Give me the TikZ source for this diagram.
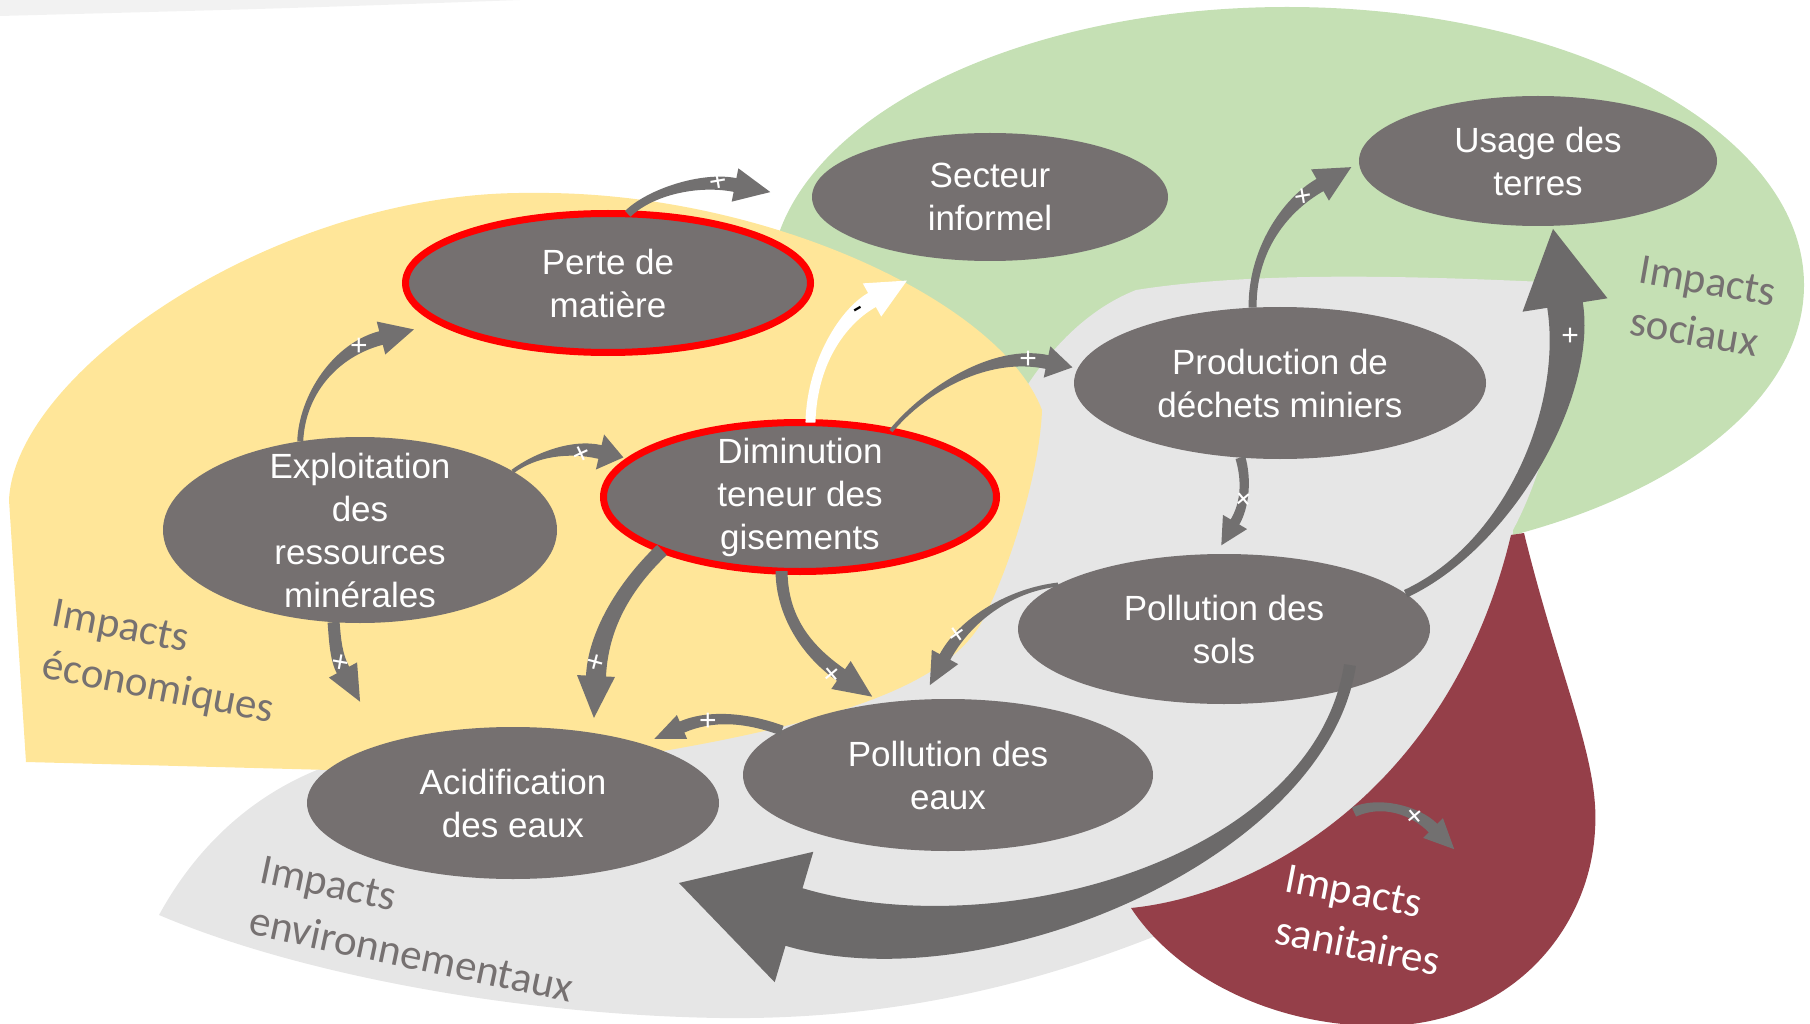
\documentclass[tikz,border=0pt]{standalone}
\usepackage{fontspec}
\setmainfont{Liberation Sans}
\newfontfamily\calfont{Carlito}
\usetikzlibrary{shapes.geometric,calc}

\definecolor{ellgray}{HTML}{757070}
\definecolor{arrgray}{HTML}{727070}
\definecolor{yel}{HTML}{FFE699}
\definecolor{grn}{HTML}{C5E0B4}
\definecolor{lgray}{HTML}{E6E6E6}
\definecolor{dred}{HTML}{953F49}
\definecolor{stripgray}{HTML}{F2F2F2}
\definecolor{labgray}{HTML}{767171}

% tapered curved arrow: #1 style, #2 start, #3 ctrl1, #4 ctrl2, #5 head base,
% #6 half width at start, #7 half width at head, #8 head length, #9 head half width
\newcommand{\taparrow}[9]{%
 \path (#2) coordinate (tS) (#3) coordinate (tA) (#4) coordinate (tB) (#5) coordinate (tE);
 \coordinate (tS1) at ($(tS)!#6pt!90:(tA)$);
 \coordinate (tS2) at ($(tS)!#6pt!-90:(tA)$);
 \coordinate (tA1) at ($(tA)+(tS1)-(tS)$);
 \coordinate (tA2) at ($(tA)+(tS2)-(tS)$);
 \coordinate (tE1) at ($(tE)!#7pt!-90:(tB)$);
 \coordinate (tE2) at ($(tE)!#7pt!90:(tB)$);
 \coordinate (tB1) at ($(tB)+(tE1)-(tE)$);
 \coordinate (tB2) at ($(tB)+(tE2)-(tE)$);
 \coordinate (tH1) at ($(tE)!#9pt!-90:(tB)$);
 \coordinate (tH2) at ($(tE)!#9pt!90:(tB)$);
 \coordinate (tT) at ($(tE)!#8pt!180:(tB)$);
 \fill[#1] (tS1) .. controls (tA1) and (tB1) .. (tE1) -- (tH1) -- (tT) -- (tH2) -- (tE2) .. controls (tB2) and (tA2) .. (tS2) -- cycle;
}

\tikzset{
 ell/.style={ellipse, fill=ellgray, inner sep=0pt, outer sep=0pt},
 redell/.style={ell, draw=red, line width=7pt},
 lbl/.style={text=white, align=center, inner sep=0pt, font=\fontsize{35}{43}\selectfont},
 catlbl/.style={align=left, inner sep=0pt, font=\calfont\fontsize{43}{53}\selectfont},
 sign/.style={text=white, inner sep=0pt, font=\fontsize{30}{30}\selectfont},
 arr/.style={fill=arrgray},
 bigarr/.style={fill=arrgray!95!black},
}

\begin{document}
\begin{tikzpicture}[x=1pt,y=-1pt]
\useasboundingbox (0,0) rectangle (1810,1024);

% background regions
\fill[stripgray] (0,0) -- (520,0) .. controls (300,8) .. (0,16) -- cycle;
\fill[grn] (1287,285) ellipse [x radius=517pt, y radius=278pt];
\fill[lgray] (1136,290) .. controls (1250,272) and (1400,275) .. (1565,283)
  .. controls (1568,380) and (1545,470) .. (1513,530)
  .. controls (1500,720) and (1350,880) .. (1158,935)
  .. controls (1020,990) and (880,1020) .. (720,1018)
  .. controls (520,1015) and (300,975) .. (159,915)
  .. controls (200,840) and (260,790) .. (330,765)
  -- (750,700) -- (980,480)
  .. controls (1010,400) and (1060,320) .. (1136,290) -- cycle;
\fill[dred] (1511,535) -- (1524,533) .. controls (1560,680) and (1600,760) .. (1595,830)
  .. controls (1590,930) and (1510,1026) .. (1380,1026)
  .. controls (1270,1026) and (1175,975) .. (1131,908)
  .. controls (1260,895) and (1450,790) .. (1511,535) -- cycle;
\fill[yel] (26,762) -- (9,500) .. controls (15,370) and (280,190) .. (531,193)
  .. controls (760,190) and (1000,300) .. (1042,410)
  .. controls (1040,470) and (1010,570) .. (980,625)
  .. controls (940,690) and (820,725) .. (640,755)
  .. controls (500,768) and (400,770) .. (330,770) -- cycle;

% nodes
\node[redell, minimum width=405pt, minimum height=139pt, label={[lbl]center:Perte de\\matière}] (perte) at (608,283) {};
\node[ell, minimum width=356pt, minimum height=128pt, label={[lbl]center:Secteur\\informel}] (secteur) at (990,197) {};
\node[ell, minimum width=358pt, minimum height=130pt, label={[lbl]center:Usage des\\terres}] (usage) at (1538,161) {};
\node[ell, minimum width=412pt, minimum height=152pt, label={[lbl]center:Production de\\déchets miniers}] (prod) at (1280,383) {};
\node[redell, minimum width=393pt, minimum height=149pt, label={[lbl]center:Diminution\\teneur des\\gisements}] (dimin) at (800,497) {};
\node[ell, minimum width=394pt, minimum height=186pt, label={[lbl]center:Exploitation\\des\\ressources\\minérales}] (expl) at (360,530) {};
\node[ell, minimum width=412pt, minimum height=150pt, label={[lbl]center:Pollution des\\sols}] (sols) at (1224,629) {};
\node[ell, minimum width=410pt, minimum height=152pt, label={[lbl]center:Pollution des\\eaux}] (eaux) at (948,775) {};
\node[ell, minimum width=412pt, minimum height=152pt, label={[lbl]center:Acidification\\des eaux}] (acid) at (513,803) {};

% head-base coordinates of the connectors
\coordinate (hA1) at (381,338);
\coordinate (hA2) at (735,185);
\coordinate (hA3) at (600,452);
\coordinate (hA4) at (872,300);
\coordinate (hA5) at (1047,362);
\coordinate (hA6) at (1320,185);
\coordinate (hA7) at (1235,522);
\coordinate (hA8) at (945,657);
\coordinate (hA9) at (343,670);
\coordinate (hA10) at (596,676);
\coordinate (hA11) at (841,675);
\coordinate (hA12) at (682,727);
\coordinate (sanS) at (1354,812);
\coordinate (hA13) at (1433,828);
\coordinate (hB1) at (1565,305);
\coordinate (bigS) at ($(sols.center)+(126,36)$);
\coordinate (hB2) at (794,917);

% connectors
\taparrow{arr}{expl.124}{302,395}{335,350}{hA1}{3}{7}{34}{17}
\taparrow{arr}{perte.74}{650,192}{700,178}{hA2}{4}{7}{36}{17}
\taparrow{arr}{expl.21}{535,455}{570,445}{hA3}{2}{7}{24}{18}
\taparrow{fill=white}{dimin.82}{812,360}{845,315}{hA4}{5}{8}{40}{19}
\taparrow{arr}{dimin.36}{925,390}{990,350}{hA5}{2}{7}{26}{16}
\taparrow{arr}{prod.110}{1252,250}{1285,205}{hA6}{4}{7}{36}{18}
\taparrow{arr}{prod.-118}{1247,480}{1245,505}{hA7}{5}{5}{27}{14}
\taparrow{arr}{sols.165}{1010,590}{965,620}{hA8}{2}{6}{32}{15}
\taparrow{arr}{expl.-106}{335,640}{336,657}{hA9}{6}{7}{36}{16}
\taparrow{arr}{dimin.201}{620,590}{598,635}{hA10}{7}{10}{42}{19}
\taparrow{arr}{dimin.-104}{782,615}{805,650}{hA11}{6}{7}{38}{17}
\taparrow{arr}{eaux.165}{745,717}{710,715}{hA12}{5}{6}{30}{13}
\taparrow{arr}{sanS}{1380,800}{1415,810}{hA13}{5}{6}{30}{14}
\taparrow{bigarr}{sols.11}{1510,545}{1580,400}{hB1}{4}{18}{77}{43}
\taparrow{bigarr}{bigS}{1320,860}{990,975}{hB2}{6}{30}{120}{68}

% signs
\node[sign, rotate=10] (s1) at (718,182) {+};
\node[sign] (s2) at (359,347) {+};
\node[sign, rotate=25] (s3) at (582,455) {+};
\node[sign, text=black, rotate=30] (s4) at (860,312) {-};
\node[sign] (s5) at (1028,360) {+};
\node[sign, rotate=10] (s6) at (1303,197) {+};
\node[sign] (s7) at (1570,337) {+};
\node[sign, rotate=40] (s8) at (1245,500) {+};
\node[sign, rotate=-10] (s9) at (340,663) {+};
\node[sign, rotate=-15] (s10) at (595,663) {+};
\node[sign, rotate=40] (s11) at (833,675) {+};
\node[sign, rotate=35] (s12) at (958,635) {+};
\node[sign] (s13) at (708,722) {+};
\node[sign, rotate=40] (s14) at (1416,817) {+};

% category labels
\node[catlbl, text=labgray, rotate=-11] (catE) at (163,664) {Impacts\\économiques};
\node[catlbl, text=labgray, rotate=-10] (catS) at (1703,307) {Impacts\\sociaux};
\node[catlbl, text=labgray, rotate=-12] (catV) at (417,929) {Impacts\\environnementaux};
\node[catlbl, text=white, rotate=-11] (catH) at (1363,920) {Impacts\\sanitaires};
\end{tikzpicture}
\end{document}
